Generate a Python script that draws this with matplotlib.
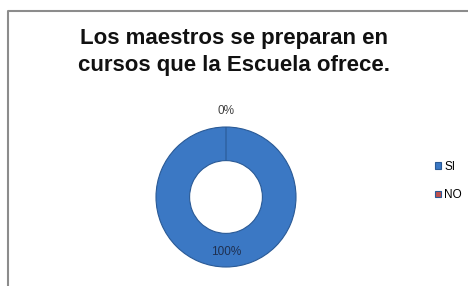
import matplotlib.pyplot as plt
from matplotlib.lines import Line2D
import numpy as np

# Datos
categorias = ["SI", "NO"]
valores = [100, 0]
colores = ["#3B78C4", "#C0504D"]
titulo = "Los maestros se preparan en\ncursos que la Escuela ofrece."

plt.rcParams['font.family'] = ['Liberation Sans', 'DejaVu Sans']

fig = plt.figure(figsize=(4.68, 2.86), dpi=100)

# Marco gris
fig.add_artist(Line2D([8/468, 8/468, 1.0], [0.0, 1 - 11/286, 1 - 11/286],
                      transform=fig.transFigure, color="#8c8c8c", lw=1.5))

fig.text(0.5, 1 - 52/286, titulo, ha="center", va="center",
         fontsize=16, fontweight="bold", color="#111111", linespacing=1.35)

ax = fig.add_axes([156/468, 19/286, 140/468, 140/286])
wedges, _ = ax.pie(valores, colors=colores, startangle=90, counterclock=False,
                   radius=1.0,
                   wedgeprops=dict(width=0.48, edgecolor="#2a5a96", linewidth=0.8))
ax.set_xlim(-1, 1)
ax.set_ylim(-1, 1)
ax.set_aspect("equal")

total = sum(valores)
for w, v in zip(wedges, valores):
    ang = np.deg2rad((w.theta1 + w.theta2) / 2)
    r = 0.79 if v > 0 else 1.23
    ax.text(r * np.cos(ang), r * np.sin(ang), "%d%%" % round(100 * v / total),
            ha="center", va="center", fontsize=8.5, color="#404040" if v == 0 else "#1f3050",
            clip_on=False)

fig.legend(wedges, categorias, loc="center left", bbox_to_anchor=(424/468, 1 - 181/286),
           frameon=False, fontsize=8.5, handlelength=0.5, handleheight=0.5,
           handletextpad=0.3, labelspacing=1.4)

fig.savefig("out.png", dpi=100)
